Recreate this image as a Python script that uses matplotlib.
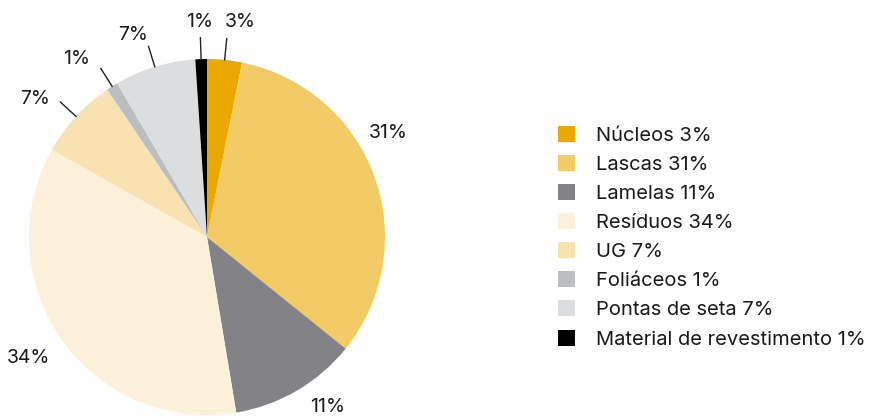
import numpy as np
import matplotlib.pyplot as plt

plt.rcParams['font.family'] = ['Inter', 'DejaVu Sans']

# Tipos de material e percentagens
categorias = ['Núcleos', 'Lascas', 'Lamelas', 'Resíduos', 'UG',
              'Foliáceos', 'Pontas de seta', 'Material de revestimento']
valores = [3, 31, 11, 34, 7, 1, 7, 1]
cores = ['#EBA900', '#F2CB67', '#838387', '#FBF0DA', '#F8E2B1',
         '#BCBDBF', '#DCDDDF', '#000000']

# ajuste do ângulo (graus) e da distância dos rótulos
desvio = [-3, 10, 5, -1, 4, 4, 3, 0]
raio = [1.22, 1.175, 1.17, 1.21, 1.24, 1.24, 1.21, 1.21]

W, H = 871, 417
fig = plt.figure(figsize=(W / 100, H / 100), dpi=100)
ax = fig.add_axes([0, 0, 1, 1])

cx, cy, R = 207, 180, 178
wedges, _ = ax.pie(valores, colors=cores, startangle=90, counterclock=False,
                   center=(cx, cy), radius=R,
                   wedgeprops=dict(linewidth=0))
ax.set_xlim(0, W)
ax.set_ylim(0, H)
ax.set_aspect('equal')
ax.axis('off')

for w, v, d, k in zip(wedges, valores, desvio, raio):
    ang = np.deg2rad((w.theta1 + w.theta2) / 2)
    if v <= 7:
        r0, r1 = R * 1.0, R * 1.12
        ax.plot([cx + r0 * np.cos(ang), cx + r1 * np.cos(ang)],
                [cy + r0 * np.sin(ang), cy + r1 * np.sin(ang)],
                color='#222222', lw=1)
    a = ang + np.deg2rad(d)
    rt = R * k
    ax.text(cx + rt * np.cos(a), cy + rt * np.sin(a), f'{v}%',
            ha='center', va='center', fontsize=14, color='#1a1a1a')

rotulos = [f'{c} {v}%' for c, v in zip(categorias, valores)]
leg = ax.legend(wedges, rotulos, loc='upper left',
                bbox_to_anchor=(558 / W, 1 - 126 / H),
                frameon=False, fontsize=14.5,
                handlelength=0.85, handleheight=0.85,
                handletextpad=1.05, labelspacing=0.5,
                borderpad=0, borderaxespad=0)
for t in leg.get_texts():
    t.set_color('#1a1a1a')

fig.savefig('out.png', dpi=100)
